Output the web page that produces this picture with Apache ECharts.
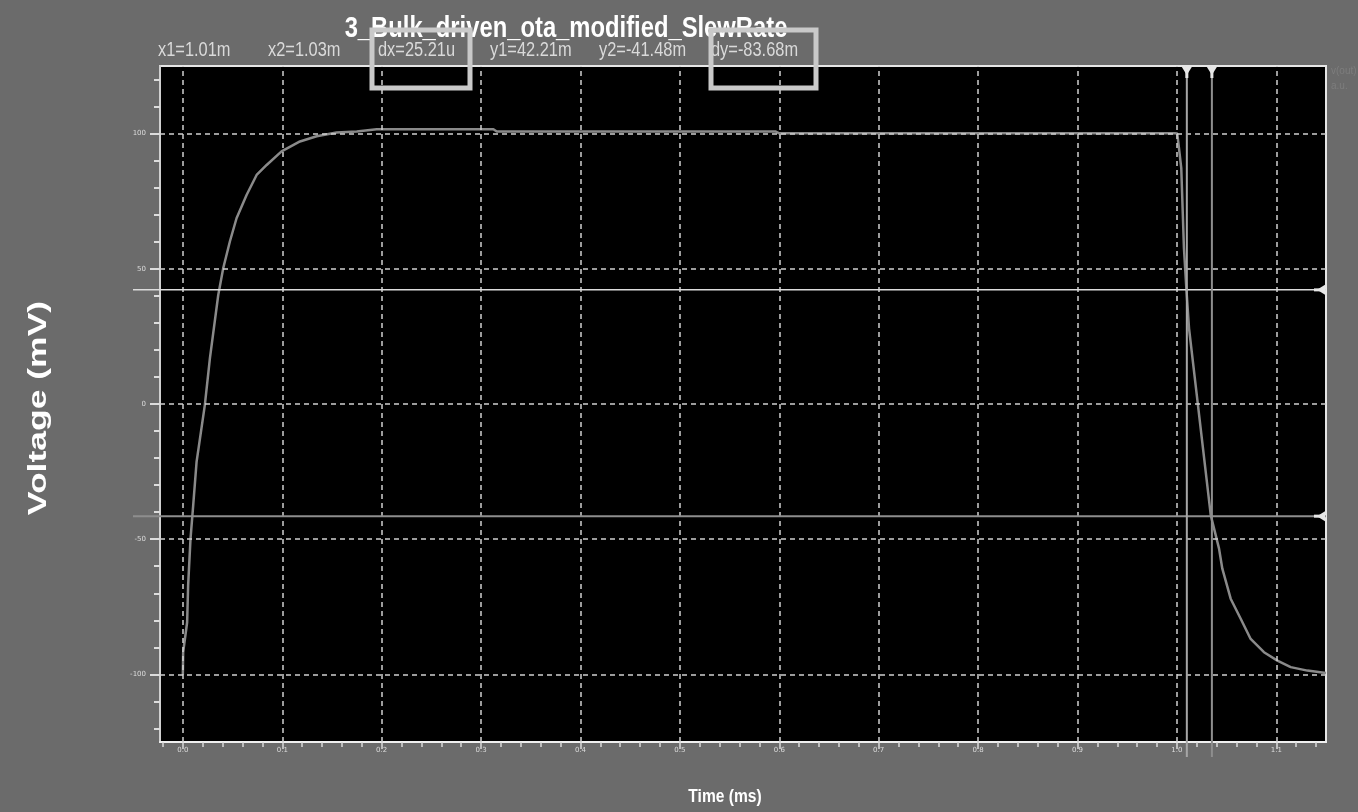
<!DOCTYPE html>
<html><head><meta charset="utf-8">
<script src="https://cdn.jsdelivr.net/npm/echarts@6/dist/echarts.min.js"></script>
<style>html,body{margin:0;padding:0;background:#6b6b6b}#c{width:1358px;height:812px}</style>
</head><body><div id="c"></div>
<script>
// ---- data ----
const timeMs = [0, 0.0003, 0.0043, 0.0053, 0.0077, 0.0104, 0.0138, 0.0221, 0.0272, 0.0356, 0.0406, 0.0473, 0.054, 0.0641, 0.0742, 0.0843, 0.0993, 0.1178, 0.1346, 0.1547, 0.1749, 0.195, 0.3124, 0.3158, 0.3695, 0.596, 0.60, 0.80, 0.998, 1.0004, 1.0044, 1.0071, 1.0095, 1.0122, 1.0341, 1.0424, 1.0457, 1.0541, 1.0642, 1.0742, 1.0876, 1.1011, 1.1145, 1.1313, 1.148, 1.15];
const voltMv = [-100, -91.8, -80.7, -67.1, -49.8, -37.5, -21.4, -0.4, 16.9, 40.3, 50.2, 60.1, 68.7, 77.3, 84.7, 88.4, 93.4, 97.1, 99.0, 100.4, 100.8, 101.6, 101.6, 100.8, 100.8, 100.8, 100.1, 100.1, 100.1, 100.0, 87.2, 57.6, 42.8, 28.0, -41.2, -53.5, -60.9, -72.0, -79.4, -86.9, -91.8, -94.9, -97.3, -98.6, -99.4, -99.5];

const xMajorTicks = [0.0, 0.1, 0.2, 0.3, 0.4, 0.5, 0.6, 0.7, 0.8, 0.9, 1.0, 1.1];
const xMinorTicks = [-0.02, 0.02, 0.04, 0.06, 0.08, 0.12, 0.14, 0.16, 0.18, 0.22, 0.24, 0.26, 0.28, 0.32, 0.34, 0.36, 0.38, 0.42, 0.44, 0.46, 0.48, 0.52, 0.54, 0.56, 0.58, 0.62, 0.64, 0.66, 0.68, 0.72, 0.74, 0.76, 0.78, 0.82, 0.84, 0.86, 0.88, 0.92, 0.94, 0.96, 0.98, 1.02, 1.04, 1.06, 1.08, 1.12, 1.14];
const yMajorTicks = [-100, -50, 0, 50, 100];
const yMinorTicks = [-120, -110, -90, -80, -70, -60, -40, -30, -20, -10, 10, 20, 30, 40, 60, 70, 80, 90, 110, 120];

const cursorX = [1.01, 1.03521];
const cursorY = [42.21, -41.48];
const readouts = ['x1=1.01m', 'x2=1.03m', 'dx=25.21u', 'y1=42.21m', 'y2=-41.48m', 'dy=-83.68m'];
const titleText = '3_Bulk_driven_ota_modified_SlewRate';
const yTitle = 'Voltage (mV)';
const xTitle = 'Time (ms)';
const legendLines = ['v(out)', 'a.u.'];

const X_MIN = -0.023, X_MAX = 1.15, Y_MIN = -125, Y_MAX = 125;

const chart = echarts.init(document.getElementById('c'), null, {renderer: 'canvas'});
const curve = timeMs.map((t, i) => [t, voltMv[i]]);
const lbl = {color: '#dcdcdc', fontSize: 7, fontFamily: 'DejaVu Sans'};

chart.setOption({
  animation: false,
  backgroundColor: '#6b6b6b',
  grid: {left: 160, right: 32, top: 66, bottom: 70, show: true, backgroundColor: '#000', borderColor: '#e6e6e6', borderWidth: 2},
  xAxis: [
    {type: 'value', min: X_MIN, max: X_MAX, position: 'bottom',
     axisLine: {show: true, onZero: false, lineStyle: {color: '#f0f0f0', width: 2}},
     axisTick: {show: true, customValues: xMajorTicks, length: 7, lineStyle: {color: '#dcdcdc', width: 1.5}},
     axisLabel: {show: true, customValues: xMajorTicks, margin: 5, formatter: v => v.toFixed(1), ...lbl},
     splitLine: {show: false}},
    {type: 'value', min: X_MIN, max: X_MAX, position: 'bottom', offset: 0,
     axisLine: {show: false, onZero: false}, axisLabel: {show: false}, splitLine: {show: false},
     axisTick: {show: true, customValues: xMinorTicks, length: 5, lineStyle: {color: '#dcdcdc', width: 1.5}}}
  ],
  yAxis: [
    {type: 'value', min: Y_MIN, max: Y_MAX, position: 'left',
     axisLine: {show: true, onZero: false, lineStyle: {color: '#d0d0d0', width: 2}},
     axisTick: {show: true, customValues: yMajorTicks, length: 10, lineStyle: {color: '#dcdcdc', width: 2}},
     axisLabel: {show: true, customValues: yMajorTicks, margin: 14, formatter: v => String(v), ...lbl},
     splitLine: {show: false}},
    {type: 'value', min: Y_MIN, max: Y_MAX, position: 'left', offset: 0,
     axisLine: {show: false, onZero: false}, axisLabel: {show: false}, splitLine: {show: false},
     axisTick: {show: true, customValues: yMinorTicks, length: 6, lineStyle: {color: '#dcdcdc', width: 2}}}
  ],
  series: [
    {type: 'line', name: 'grid', data: [curve[0]], showSymbol: false, lineStyle: {opacity: 0}, z: 1, silent: true,
     markLine: {silent: true, symbol: ['none', 'none'], label: {show: false},
       lineStyle: {color: '#cfcfcf', width: 1.5, type: [5, 4]},
       data: xMajorTicks.map(v => ({xAxis: v})).concat(yMajorTicks.map(v => ({yAxis: v})))}},
    {type: 'line', name: 'v(out)', data: curve, showSymbol: false, smooth: false, z: 3,
     lineStyle: {color: '#8a8a8a', width: 2.5}}
  ]
});

function buildGraphics() {
  const p = (x, y) => chart.convertToPixel({xAxisIndex: 0, yAxisIndex: 0}, [x, y]);
  const top = p(X_MIN, Y_MAX)[1], bottom = p(X_MIN, Y_MIN)[1];
  const right = p(X_MAX, 0)[0];
  const g = [];
  // title
  g.push({type: 'text', x: 566, y: 29, scaleX: 0.82, z: 10,
    style: {text: titleText, x: 0, y: 0, align: 'center', verticalAlign: 'middle', font: 'bold 29px "Liberation Sans", Arial, sans-serif', fill: '#ffffff'}});
  // readouts
  const rx = [158, 268, 378, 490, 599, 711];
  readouts.forEach((t, i) => g.push({type: 'text', x: rx[i], y: 50, scaleX: 0.82, z: 10,
    style: {text: t, x: 0, y: 0, align: 'left', verticalAlign: 'middle', font: '20px "Liberation Sans", Arial, sans-serif', fill: '#dadada'}}));
  // highlight boxes
  g.push({type: 'rect', z: 20, shape: {x: 372, y: 30, width: 98, height: 58}, style: {fill: 'none', stroke: '#c9c9c9', lineWidth: 5}});
  g.push({type: 'rect', z: 20, shape: {x: 711, y: 30, width: 105, height: 58}, style: {fill: 'none', stroke: '#c9c9c9', lineWidth: 5}});
  // axis titles
  g.push({type: 'text', x: 39, y: 408, rotation: Math.PI / 2, scaleX: 1.42, z: 10,
    style: {text: yTitle, x: 0, y: 0, align: 'center', verticalAlign: 'middle', font: 'bold 25px "Liberation Sans", Arial, sans-serif', fill: '#ffffff'}});
  g.push({type: 'text', x: 725, y: 797, scaleX: 0.82, z: 10,
    style: {text: xTitle, x: 0, y: 0, align: 'center', verticalAlign: 'middle', font: 'bold 19px "Liberation Sans", Arial, sans-serif', fill: '#ffffff'}});
  // faint legend
  legendLines.forEach((t, i) => g.push({type: 'text', x: right + 5, y: 71 + i * 15, z: 10,
    style: {text: t, x: 0, y: 0, align: 'left', verticalAlign: 'middle', font: '10px "Liberation Sans", Arial', fill: '#7d7d7d'}}));
  // horizontal cursors
  const hColors = ['#dcdcdc', '#8e8e8e'];
  cursorY.forEach((v, i) => {
    const y = p(X_MIN, v)[1];
    g.push({type: 'line', z: 15, shape: {x1: 133, y1: y, x2: right, y2: y}, style: {stroke: hColors[i], lineWidth: i === 0 ? 1.5 : 2}});
    g.push({type: 'polygon', z: 16, shape: {points: [[right - 1, y - 5], [right - 1, y + 5], [right - 9, y]]}, style: {fill: '#e6e6e6'}});
    g.push({type: 'line', z: 16, shape: {x1: right - 12, y1: y, x2: right - 4, y2: y}, style: {stroke: '#e6e6e6', lineWidth: 3}});
  });
  // vertical cursors
  const vColors = ['#a6a6a6', '#8e8e8e'];
  cursorX.forEach((v, i) => {
    const x = p(v, 0)[0];
    g.push({type: 'line', z: 15, shape: {x1: x, y1: top, x2: x, y2: bottom + 15}, style: {stroke: vColors[i], lineWidth: 2}});
    g.push({type: 'polygon', z: 16, shape: {points: [[x - 5, top + 1], [x + 5, top + 1], [x, top + 9]]}, style: {fill: '#e6e6e6'}});
    g.push({type: 'line', z: 16, shape: {x1: x, y1: top, x2: x, y2: top + 12}, style: {stroke: '#e6e6e6', lineWidth: 3}});
  });
  chart.setOption({graphic: g});
}
buildGraphics();
</script>
</body></html>
